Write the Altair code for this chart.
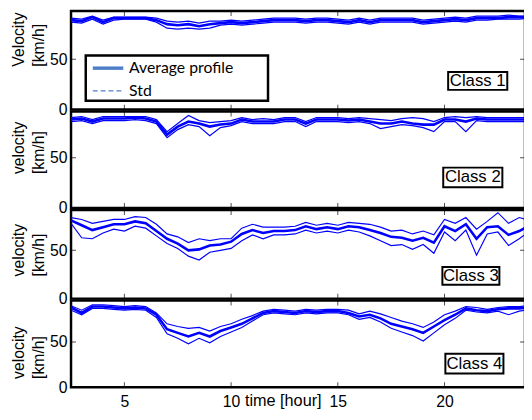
import altair as alt
import pandas as pd

# ---------------- data ----------------
hours = [2.5, 3.0, 3.5, 4.0, 4.5, 5.0, 5.5, 6.0, 6.5, 7.0, 7.5, 8.0, 8.5, 9.0, 9.5,
         10.0, 10.5, 11.0, 11.5, 12.0, 12.5, 13.0, 13.5, 14.0, 14.5, 15.0, 15.5, 16.0,
         16.5, 17.0, 17.5, 18.0, 18.5, 19.0, 19.5, 20.0, 20.5, 21.0, 21.5, 22.0, 22.5,
         23.0, 23.5, 24.0]

c1_mean = [89, 88, 92, 87, 91, 91, 91, 91, 89, 85, 84, 85, 83, 85, 86, 87, 86, 87, 88, 89, 89, 89,
           88, 89, 89, 88, 87, 89, 87, 89, 89, 89, 89, 87, 88, 89, 90, 89, 91, 91, 91, 92, 92, 92]
c1_up = [91, 90, 93, 89, 92, 92, 92, 92, 91, 88, 87, 88, 86, 88, 88, 89, 88, 89, 90, 91, 91, 91,
         90, 91, 91, 90, 89, 91, 89, 91, 91, 91, 91, 89, 90, 91, 92, 91, 93, 93, 93, 94, 93, 93]
c1_lo = [87, 86, 90, 85, 89, 90, 90, 90, 87, 81, 80, 81, 80, 81, 84, 85, 84, 85, 86, 87, 87, 87,
         86, 87, 87, 86, 85, 87, 85, 87, 87, 87, 87, 85, 86, 87, 88, 87, 89, 89, 90, 90, 90, 91]

c2_mean = [88, 89, 86, 89, 89, 89, 90, 89, 86, 73, 81, 86, 84, 81, 83, 84, 88, 86, 86, 86, 88, 88,
           84, 88, 88, 88, 87, 88, 86, 84, 84, 86, 84, 83, 83, 88, 88, 86, 89, 88, 88, 88, 88, 88]
c2_up = [90, 91, 88, 91, 91, 91, 91, 91, 88, 76, 84, 92, 87, 85, 86, 87, 90, 88, 89, 88, 90, 90,
         86, 90, 90, 90, 89, 90, 89, 88, 87, 89, 90, 89, 86, 90, 91, 90, 91, 90, 90, 90, 90, 90]
c2_lo = [86, 87, 84, 87, 87, 87, 88, 87, 84, 70, 78, 83, 81, 72, 80, 82, 86, 84, 84, 84, 86, 86,
         81, 86, 86, 86, 85, 86, 84, 79, 81, 83, 82, 80, 76, 86, 86, 76, 87, 86, 86, 86, 86, 86]

c3_mean = [81, 76, 71, 74, 77, 77, 80, 78, 70, 62, 57, 50, 51, 55, 56, 59, 67, 71, 68, 70, 70, 71,
           75, 72, 74, 72, 75, 74, 71, 68, 64, 63, 60, 63, 58, 75, 70, 77, 62, 74, 75, 66, 70, 76]
c3_up = [84, 82, 78, 80, 82, 82, 85, 84, 77, 67, 64, 58, 62, 60, 62, 62, 73, 77, 74, 74, 74, 75,
         79, 76, 78, 76, 79, 78, 77, 74, 70, 71, 67, 70, 66, 82, 78, 84, 72, 80, 89, 78, 84, 81]
c3_lo = [78, 63, 62, 68, 72, 70, 75, 73, 65, 57, 52, 44, 40, 48, 50, 52, 60, 66, 62, 66, 66, 67,
         71, 68, 70, 68, 71, 69, 65, 60, 55, 56, 51, 56, 47, 69, 60, 71, 45, 67, 69, 55, 62, 70]

c4_mean = [88, 82, 89, 89, 88, 87, 88, 87, 80, 64, 60, 56, 60, 56, 62, 66, 70, 76, 82, 84, 83, 82,
           84, 83, 84, 84, 82, 78, 80, 76, 70, 67, 64, 60, 67, 74, 80, 87, 85, 84, 86, 87, 87, 88]
c4_up = [90, 85, 91, 91, 90, 89, 90, 89, 82, 70, 67, 65, 66, 62, 67, 70, 75, 79, 84, 86, 85, 84,
         86, 85, 86, 86, 85, 81, 84, 81, 77, 73, 70, 66, 72, 80, 84, 89, 88, 86, 88, 89, 89, 90]
c4_lo = [85, 80, 87, 87, 86, 85, 86, 85, 77, 59, 54, 48, 54, 49, 56, 61, 66, 73, 80, 82, 81, 80,
         82, 81, 82, 82, 80, 75, 77, 72, 65, 61, 57, 51, 60, 69, 76, 85, 83, 82, 84, 80, 84, 86]

class_names = ["Class 1", "Class 2", "Class 3", "Class 4"]
x_ticks = [5, 10, 15, 20]
y_ticks = [0, 50]
legend_labels = ["Average profile", "Std"]

# ---------------- styling ----------------
FONT = "Liberation Sans"
LINE = "#0000ff"
LEG = "#4f7fc8"
X_DOM = [2.5, 23.77]
PW = 461


def x_enc(field, show):
    scale = alt.Scale(domain=X_DOM, nice=False, zero=False)
    if show:
        axis = alt.Axis(values=x_ticks, ticks=False, tickSize=0, domain=False, grid=False,
                        labelFont=FONT, labelFontSize=16, labelColor="black", labelPadding=7,
                        labelFlush=False, title="time [hour]", titleFont=FONT, titleFontSize=16.5,
                        titleFontWeight="normal", titleColor="black", titleX=215, titleY=19,
                        titleAlign="center", titleBaseline="alphabetic")
    else:
        axis = None
    return alt.X(field, type="quantitative", scale=scale, axis=axis)


def y_enc(field, top, ytitle, title_y):
    scale = alt.Scale(domain=[0, top], nice=False, zero=False)
    axis = alt.Axis(values=y_ticks, ticks=False, tickSize=0, domain=False, grid=False,
                    labelFont=FONT, labelFontSize=16, labelColor="black", labelPadding=4,
                    title=ytitle, titleFont=FONT, titleFontSize=16, titleFontWeight="normal",
                    titleColor="black", titleAngle=270, titleAlign="left",
                    titleBaseline="middle", titleLineHeight=21, titleX=-53.5, titleY=title_y)
    return alt.Y(field, type="quantitative", scale=scale, axis=axis)


def panel(mean, up, lo, top, height, ytitle, title_y, name, box, show_x, legend=None):
    band = pd.DataFrame({"hour": hours * 2, "v": up + lo,
                         "s": ["up"] * len(hours) + ["lo"] * len(hours)})
    avg = pd.DataFrame({"hour": hours, "v": mean})
    X = lambda f="hour": x_enc(f, show_x)
    Y = lambda f="v": y_enc(f, top, ytitle, title_y)

    layers = []
    layers.append(alt.Chart(band).mark_line(color=LINE, strokeWidth=1.2, clip=True)
                  .encode(x=X(), y=Y(), detail="s:N"))
    layers.append(alt.Chart(avg).mark_line(color=LINE, strokeWidth=2.6, clip=True)
                  .encode(x=X(), y=Y()))

    # inward ticks (box style)
    xt = pd.DataFrame({"hour": x_ticks * 2, "v": [0] * 4 + [top] * 4})
    yt = pd.DataFrame({"hour": [X_DOM[0], X_DOM[1]], "v": [50, 50]})
    layers.append(alt.Chart(xt).mark_tick(orient="vertical", size=10, thickness=1,
                                          color="black", clip=True)
                  .encode(x=X(), y=Y()))
    layers.append(alt.Chart(yt).mark_tick(orient="horizontal", size=10, thickness=1,
                                          color="black", clip=True)
                  .encode(x=X(), y=Y()))

    # class label box
    bx = pd.DataFrame({"hour": [box[0]], "hour2": [box[1]], "v": [box[2]], "v2": [box[3]],
                       "name": [name], "tx": [(box[0] + box[1]) / 2], "ty": [(box[2] + box[3]) / 2]})
    layers.append(alt.Chart(bx).mark_rect(fill="white", stroke="black", strokeWidth=2)
                  .encode(x=X(), x2="hour2:Q", y=Y(), y2="v2:Q"))
    layers.append(alt.Chart(bx).mark_text(font=FONT, fontSize=17, color="black",
                                          baseline="middle", align="center")
                  .encode(x=X("tx"), y=Y("ty"), text="name:N"))

    if legend is not None:
        lb = pd.DataFrame({"hour": [legend["box"][0]], "hour2": [legend["box"][1]],
                           "v": [legend["box"][2]], "v2": [legend["box"][3]]})
        layers.append(alt.Chart(lb).mark_rect(fill="white", stroke="black", strokeWidth=2.5)
                      .encode(x=X(), x2="hour2:Q", y=Y(), y2="v2:Q"))
        ls = pd.DataFrame({"hour": [legend["sx"][0], legend["sx"][1]],
                           "v": [legend["ry"][0]] * 2})
        ls2 = pd.DataFrame({"hour": [legend["sx"][0], legend["sx"][1]],
                            "v": [legend["ry"][1]] * 2})
        layers.append(alt.Chart(ls).mark_line(color=LEG, strokeWidth=3.5)
                      .encode(x=X(), y=Y()))
        layers.append(alt.Chart(ls2).mark_line(color=LEG, strokeWidth=1.5, strokeDash=[5, 3])
                      .encode(x=X(), y=Y()))
        lt = pd.DataFrame({"hour": [legend["tx"]] * 2, "v": legend["ry"], "t": legend_labels})
        layers.append(alt.Chart(lt).mark_text(font="Lato", fontSize=16, color="black",
                                              align="left", baseline="middle")
                      .encode(x=X(), y=Y(), text="t:N"))

    return alt.layer(*layers).properties(width=PW, height=height)


p1 = panel(c1_mean, c1_up, c1_lo, 98, 100, ["Velocity", "[km/h]"], 56, class_names[0],
           [20.17, 22.94, 37.3, 19.6], False,
           legend={"box": [3.19, 11.73, 53.9, 8.8], "sx": [3.52, 4.95], "ry": [41.2, 18.6],
                   "tx": 5.22})
p2 = panel(c2_mean, c2_up, c2_lo, 96, 98, ["velocity", "[km/h]"], 63, class_names[1],
           [19.94, 22.71, 40.2, 20.6], False)
p3 = panel(c3_mean, c3_up, c3_lo, 91.8, 90, ["velocity", "[km/h]"], 67, class_names[2],
           [19.9, 22.57, 32.7, 14.3], False)
p4 = panel(c4_mean, c4_up, c4_lo, 95.6, 88, ["velocity", "[km/h]"], 79, class_names[3],
           [20.04, 22.76, 37.0, 15.2], True)

chart = (alt.vconcat(p1, p2, p3, p4, spacing=2, bounds="flush")
         .properties(autosize=alt.AutoSizeParams(type="none"),
                     padding={"left": 64, "top": 0, "right": -1, "bottom": 404})
         .configure(background="white",
                    view=alt.ViewConfig(stroke="black", strokeWidth=2.5)))

chart.save("out.html", embed_options={"renderer": "svg", "actions": False})
